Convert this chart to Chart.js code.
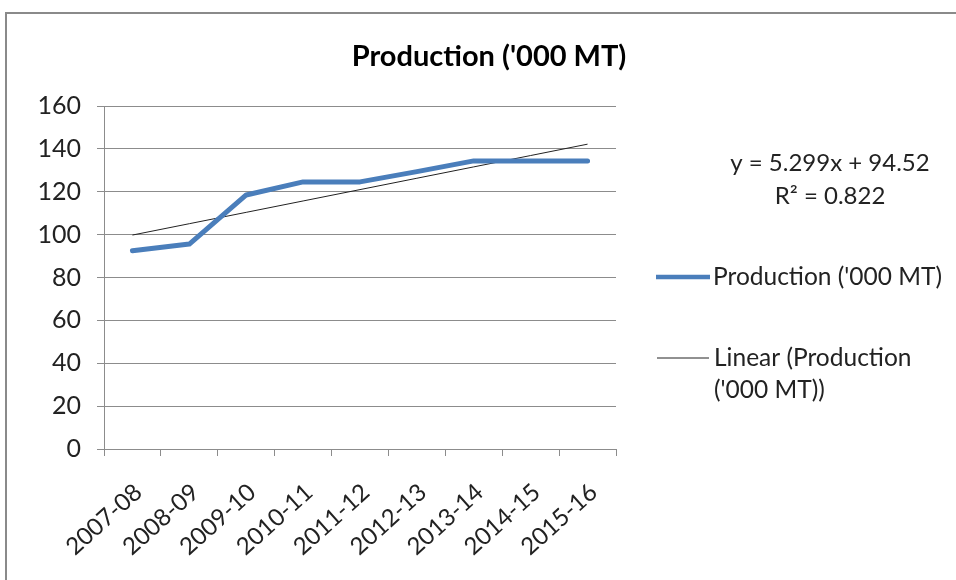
<!DOCTYPE html>
<html>
<head>
<meta charset="utf-8">
<script src="https://cdn.jsdelivr.net/npm/chart.js@4.4.0/dist/chart.umd.min.js"></script>
<style>
  html, body { margin: 0; padding: 0; background: #fff; overflow: hidden; }
  #frame { position: absolute; left: 5px; top: 12px; width: 1000px; height: 620px; border: 2px solid #8a8a8a; box-sizing: border-box; }
  #wrap { position: absolute; left: 0; top: 0; width: 956px; height: 580px; }
</style>
</head>
<body>
<div id="frame"></div>
<div id="wrap"><canvas id="chart"></canvas></div>
<script>
// ===== Data =====
const years = ['2007-08', '2008-09', '2009-10', '2010-11', '2011-12', '2012-13', '2013-14', '2014-15', '2015-16'];
const production = [92.5, 95.6, 118.5, 124.6, 124.6, 129.4, 134.4, 134.4, 134.4];
// trendline (y = 5.299x + 94.52)
const trendValues = [99.8, 105.1, 110.4, 115.7, 121.0, 126.3, 131.6, 136.9, 142.2];
const yTicks = [0, 20, 40, 60, 80, 100, 120, 140, 160];

const titleText = "Production ('000 MT)";
const equationLines = ['y = 5.299x + 94.52', 'R² = 0.822'];
const seriesName = "Production ('000 MT)";
const trendNameLines = ['Linear (Production', "('000 MT))"];

const FONT = 'Lato, "Open Sans", sans-serif';
const blue = '#4a7ebb';
const gridGray = '#8c8c8c';

// ===== Title, equation and legend drawn by hand =====
const sidePlugin = {
    id: 'sideText',
    afterDraw(chart) {
        const ctx = chart.ctx;
        ctx.save();
        ctx.fillStyle = '#000';
        ctx.textBaseline = 'middle';

        // title
        ctx.font = 'bold 29px ' + FONT;
        ctx.textAlign = 'center';
        ctx.fillText(titleText, 489, 57);

        // trendline equation
        ctx.font = '24px ' + FONT;
        ctx.fillStyle = '#222';
        ctx.fillText(equationLines[0], 830, 163);
        ctx.fillText(equationLines[1], 830, 196);

        // legend
        ctx.textAlign = 'left';
        ctx.font = '24.5px ' + FONT;
        ctx.strokeStyle = blue;
        ctx.lineWidth = 4.5;
        ctx.beginPath();
        ctx.moveTo(656, 277);
        ctx.lineTo(710, 277);
        ctx.stroke();
        ctx.fillText(seriesName, 713, 277);

        ctx.strokeStyle = '#222';
        ctx.lineWidth = 1;
        ctx.beginPath();
        ctx.moveTo(657, 358);
        ctx.lineTo(709, 358);
        ctx.stroke();
        ctx.fillText(trendNameLines[0], 714, 358);
        ctx.fillText(trendNameLines[1], 714, 390);
        ctx.restore();
    }
};

const ctx = document.getElementById('chart').getContext('2d');
new Chart(ctx, {
    type: 'line',
    data: {
        labels: years,
        datasets: [{
            label: seriesName,
            data: production,
            borderColor: blue,
            borderWidth: 5,
            pointRadius: 0,
            tension: 0,
            borderJoinStyle: 'round',
            borderCapStyle: 'round'
        }, {
            label: 'Linear',
            data: trendValues,
            borderColor: '#222',
            borderWidth: 1,
            pointRadius: 0,
            tension: 0
        }]
    },
    options: {
        responsive: true,
        maintainAspectRatio: false,
        animation: false,
        layout: { padding: { left: 0, top: 106, right: 340, bottom: 0 } },
        plugins: {
            legend: { display: false },
            title: { display: false },
            tooltip: { enabled: false }
        },
        scales: {
            x: {
                offset: true,
                afterFit: s => { s.height = 131; },
                grid: {
                    offset: true,
                    drawOnChartArea: false,
                    drawTicks: true,
                    tickLength: 7,
                    color: gridGray
                },
                border: { display: true, color: gridGray, width: 1 },
                ticks: {
                    minRotation: 42,
                    maxRotation: 42,
                    autoSkip: false,
                    padding: 22,
                    labelOffset: 6,
                    color: '#222',
                    font: { family: FONT, size: 24 }
                }
            },
            y: {
                min: 0,
                max: 160,
                afterFit: s => { s.width = 104; },
                afterBuildTicks: s => { s.ticks = yTicks.map(v => ({ value: v })); },
                grid: {
                    color: gridGray,
                    tickLength: 7,
                    drawTicks: true
                },
                border: { display: true, color: gridGray, width: 1 },
                ticks: {
                    padding: 16,
                    color: '#222',
                    font: { family: FONT, size: 25 }
                }
            }
        }
    },
    plugins: [sidePlugin]
});
</script>
</body>
</html>
